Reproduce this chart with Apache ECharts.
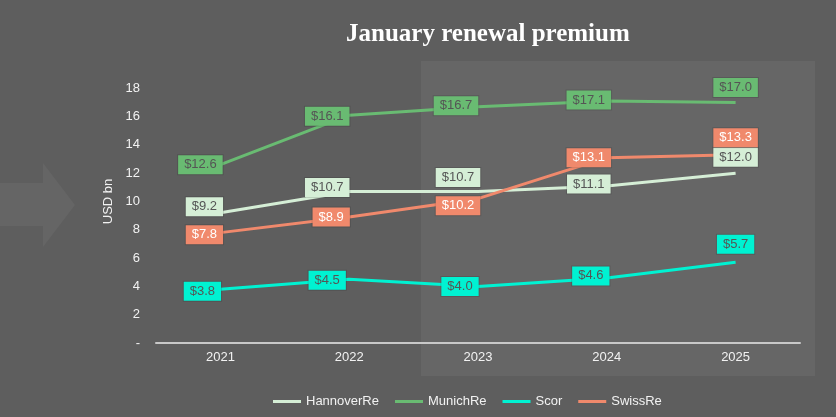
<!DOCTYPE html>
<html>
<head>
<meta charset="utf-8">
<script src="https://cdn.jsdelivr.net/npm/echarts@6/dist/echarts.min.js"></script>
<style>
  html, body { margin: 0; padding: 0; background: #5e5e5e; }
  #chart { width: 836px; height: 417px; }
</style>
</head>
<body>
<div id="chart"></div>
<script>
// January renewal premium, USD bn
var years = ['2021', '2022', '2023', '2024', '2025'];
var hannoverRe = [9.2, 10.7, 10.7, 11.1, 12.0];
var munichRe = [12.6, 16.1, 16.7, 17.1, 17.0];
var scor = [3.8, 4.5, 4.0, 4.6, 5.7];
var swissRe = [7.8, 8.9, 10.2, 13.1, 13.3];

// label nudges (px) so the boxes sit like in the original
var nudges = {
    HannoverRe: [[-16, -6], [-22, -4], [-20, -14], [-18, -2], [0, -16]],
    MunichRe:   [[-20, 0], [-22, 1], [-22, -1], [-18, -1], [0, -15]],
    Scor:       [[-18, 2], [-22, 1], [-18, 0], [-16, -2], [0, -18]],
    SwissRe:    [[-16, 2], [-18, 0], [-20, 7], [-18, 0], [0, -17]]
};

var dom = document.getElementById('chart');
var myChart = echarts.init(dom, null, { renderer: 'canvas' });

function makeSeries(name, values, color, textColor) {
    return {
        name: name,
        type: 'line',
        data: values.map(function (v, i) {
            return {
                value: v,
                label: { offset: nudges[name][i] }
            };
        }),
        symbol: 'circle',
        symbolSize: 0.1,
        lineStyle: { width: 3, color: color },
        itemStyle: { color: color },
        label: {
            show: true,
            position: 'inside',
            formatter: function (p) { return '$' + p.value.toFixed(1); },
            fontFamily: 'Liberation Sans',
            fontSize: 13,
            lineHeight: 13,
            color: textColor,
            backgroundColor: color,
            borderColor: 'rgba(0,0,0,0.12)',
            borderWidth: 1,
            padding: [3, 6]
        },
        emphasis: { disabled: true }
    };
}

var option = {
    backgroundColor: '#5e5e5e',
    animation: false,
    title: {
        text: 'January renewal premium',
        left: 341,
        top: 17,
        textStyle: {
            fontFamily: 'Liberation Serif',
            fontWeight: 'bold',
            fontSize: 25,
            color: '#ffffff'
        }
    },
    graphic: [
        {
            type: 'polygon',
            z: -1,
            shape: { points: [[0, 183], [43, 183], [43, 163], [75, 205], [43, 247], [43, 226], [0, 226]] },
            style: { fill: '#656565' }
        },
        {
            type: 'rect',
            z: -1,
            shape: { x: 421, y: 61, width: 394, height: 315 },
            style: { fill: '#666666' }
        }
    ],
    legend: {
        left: 268,
        top: 390,
        icon: 'rect',
        itemWidth: 28,
        itemHeight: 3,
        itemGap: 16,
        textStyle: { color: '#f2f2f2', fontFamily: 'Liberation Sans', fontSize: 13 },
        data: ['HannoverRe', 'MunichRe', 'Scor', 'SwissRe']
    },
    grid: { left: 156, right: 36, top: 60, bottom: 74 },
    xAxis: {
        type: 'category',
        data: years,
        axisLine: { lineStyle: { color: '#c8c8c8', width: 2 } },
        axisTick: { show: false },
        axisLabel: { color: '#f2f2f2', fontFamily: 'Liberation Sans', fontSize: 13, margin: 8 }
    },
    yAxis: {
        type: 'value',
        min: 0,
        max: 20,
        interval: 2,
        name: 'USD bn',
        nameLocation: 'middle',
        nameGap: 40,
        nameTextStyle: { color: '#f2f2f2', fontFamily: 'Liberation Sans', fontSize: 13 },
        splitLine: { show: false },
        axisLine: { show: false },
        axisTick: { show: false },
        axisLabel: {
            color: '#f2f2f2',
            fontFamily: 'Liberation Sans',
            fontSize: 13,
            margin: 16,
            showMaxLabel: false,
            formatter: function (v) { return v === 0 ? '-' : v; }
        }
    },
    series: [
        makeSeries('HannoverRe', hannoverRe, '#d5eed6', '#555555'),
        makeSeries('MunichRe', munichRe, '#69bb72', '#555555'),
        makeSeries('Scor', scor, '#00f2d2', '#555555'),
        makeSeries('SwissRe', swissRe, '#f0896c', '#ffffff')
    ]
};

myChart.setOption(option);
</script>
</body>
</html>
